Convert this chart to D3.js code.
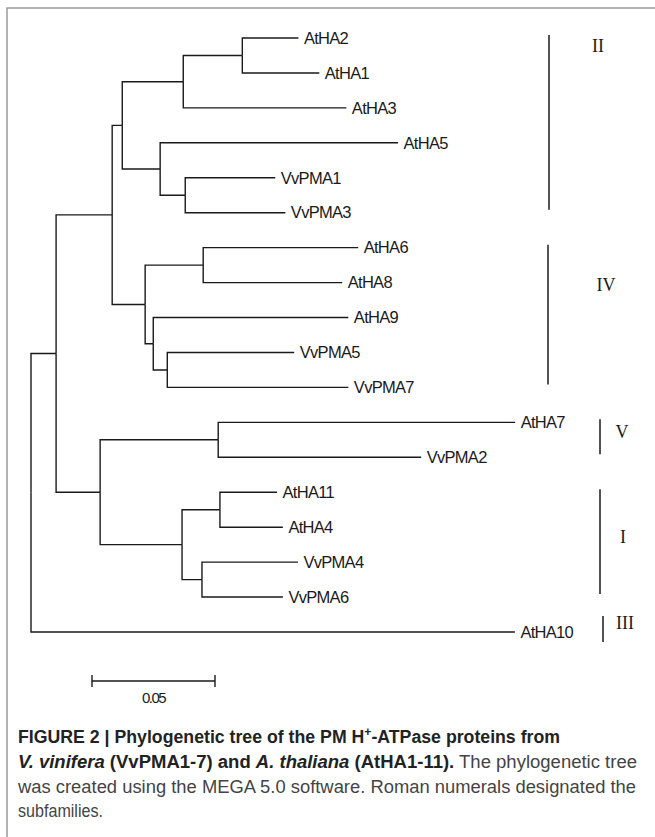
<!DOCTYPE html>
<html>
<head>
<meta charset="utf-8">
<script src="https://cdn.jsdelivr.net/npm/d3@7"></script>
<style>
  html, body { margin: 0; padding: 0; background: #fff; }
  svg { display: block; }
</style>
</head>
<body>
<svg id="chart"></svg>
<script>
// tree topology: node, parent, branch length (substitutions per site)
const nodeNames = ["root", "n1", "n2", "n3", "n4", "n5", "AtHA2", "AtHA1", "AtHA3", "n6", "AtHA5", "n7", "VvPMA1", "VvPMA3",
    "n8", "n9", "AtHA6", "AtHA8", "n10", "AtHA9", "n11", "VvPMA5", "VvPMA7",
    "n12", "n13", "AtHA7", "VvPMA2", "n14", "n15", "AtHA11", "AtHA4", "n16", "VvPMA4", "VvPMA6", "AtHA10"];
const parentNames = ["", "root", "n1", "n2", "n3", "n4", "n5", "n5", "n4", "n3", "n6", "n6", "n7", "n7",
    "n2", "n8", "n9", "n9", "n8", "n10", "n10", "n11", "n11",
    "n1", "n12", "n13", "n13", "n12", "n14", "n15", "n15", "n14", "n16", "n16", "root"];
const branchLengths = [0, 0.0102, 0.0228, 0.0041, 0.0248, 0.0240, 0.0228, 0.0313, 0.0663, 0.0154, 0.0967, 0.0102, 0.0366, 0.0407,
    0.0134, 0.0236, 0.0630, 0.0565, 0.0033, 0.0793, 0.0057, 0.0516, 0.0736,
    0.0179, 0.0480, 0.1207, 0.0825, 0.0333, 0.0154, 0.0232, 0.0256, 0.0081, 0.0390, 0.0329, 0.1967];

// leaf order top to bottom
const leafNames = ["AtHA2", "AtHA1", "AtHA3", "AtHA5", "VvPMA1", "VvPMA3", "AtHA6", "AtHA8", "AtHA9", "VvPMA5", "VvPMA7",
    "AtHA7", "VvPMA2", "AtHA11", "AtHA4", "VvPMA4", "VvPMA6", "AtHA10"];

// subfamilies
const subfamilies = ["II", "IV", "V", "I", "III"];
const subfamilyFirst = ["AtHA2", "AtHA6", "AtHA7", "AtHA11", "AtHA10"];
const subfamilyLast = ["VvPMA3", "VvPMA7", "VvPMA2", "VvPMA6", "AtHA10"];

const scaleBarValue = 0.05;
const scaleBarLabel = "0.05";

const width = 655;
const height = 837;

const svg = d3.select("#chart")
    .attr("width", width)
    .attr("height", height);

// frame
svg.append("path")
    .attr("d", `M7,${height} V8 H${width}`)
    .attr("fill", "none")
    .attr("stroke", "#9a9a9a")
    .attr("stroke-width", 1.5);

const x = d3.scaleLinear().domain([0, 0.2]).range([31, 31 + 492]);
const y = d3.scalePoint().domain(leafNames).range([38, 632]);

const table = nodeNames.map((n, i) => ({id: n, parentId: parentNames[i] || null, length: branchLengths[i]}));
const root = d3.stratify()(table);

root.eachBefore(d => d.dist = (d.parent ? d.parent.dist : 0) + d.data.length);
root.eachAfter(d => {
    d.yy = d.children
        ? (d.children[0].yy + d.children[d.children.length - 1].yy) / 2
        : y(d.id);
});

const tree = svg.append("g");

// branches (elbow from parent)
tree.selectAll("path.branch")
    .data(root.descendants().filter(d => d.parent))
    .enter().append("path")
    .attr("class", "branch")
    .attr("d", d => `M${x(d.parent.dist)},${d.parent.yy} V${d.yy} H${x(d.dist)}`)
    .attr("fill", "none")
    .attr("stroke", "#1a1a1a")
    .attr("stroke-width", 1.4);

// leaf labels
tree.selectAll("text.leaf")
    .data(root.leaves())
    .enter().append("text")
    .attr("class", "leaf")
    .attr("x", d => x(d.dist) + 5.5)
    .attr("y", d => d.yy)
    .attr("dy", "0.35em")
    .style("font-family", "'Liberation Sans', Arial, sans-serif")
    .style("font-size", "16.5px")
    .style("letter-spacing", "-0.7px")
    .style("fill", "#1a1a1a")
    .text(d => d.id);

// subfamily brackets
const bracketLayout = {
    II: {x: 549, lx: 598, ly: 46},
    IV: {x: 548, lx: 606, ly: 285},
    V: {x: 600, lx: 622, ly: 432},
    I: {x: 600, lx: 623, ly: 537},
    III: {x: 603, lx: 625, ly: 623}
};
const brackets = subfamilies.map((s, i) => {
    const y0 = y(subfamilyFirst[i]), y1 = y(subfamilyLast[i]);
    const mid = (y0 + y1) / 2 - 3;
    const half = Math.max((y1 - y0) / 2, 13);
    return {name: s, top: mid - half, bottom: mid + half};
});

svg.selectAll("line.bracket")
    .data(brackets)
    .enter().append("line")
    .attr("class", "bracket")
    .attr("x1", d => bracketLayout[d.name].x)
    .attr("x2", d => bracketLayout[d.name].x)
    .attr("y1", d => d.top)
    .attr("y2", d => d.bottom)
    .attr("stroke", "#1a1a1a")
    .attr("stroke-width", 1.5);

svg.selectAll("text.family")
    .data(brackets)
    .enter().append("text")
    .attr("class", "family")
    .attr("x", d => bracketLayout[d.name].lx)
    .attr("y", d => bracketLayout[d.name].ly)
    .attr("dy", "0.33em")
    .attr("text-anchor", "middle")
    .style("font-family", "'Liberation Serif', 'Times New Roman', serif")
    .style("font-size", "18px")
    .style("fill", "#1a1a1a")
    .text(d => d.name);

// scale bar
const sb = svg.append("g").attr("transform", "translate(0,681)");
const sbLen = x(scaleBarValue) - x(0);
const sbX0 = 92;
sb.append("path")
    .attr("d", `M${sbX0},-6 V6 M${sbX0},0 H${sbX0 + sbLen} M${sbX0 + sbLen},-6 V6`)
    .attr("fill", "none")
    .attr("stroke", "#1a1a1a")
    .attr("stroke-width", 1.4);
sb.append("text")
    .attr("x", sbX0 + sbLen / 2)
    .attr("y", 17)
    .attr("dy", "0.35em")
    .attr("text-anchor", "middle")
    .style("font-family", "'Liberation Sans', Arial, sans-serif")
    .style("font-size", "15px")
    .style("letter-spacing", "-1.5px")
    .style("fill", "#1a1a1a")
    .text(scaleBarLabel);

// caption
const cap = svg.append("g")
    .style("font-family", "'Liberation Sans', Arial, sans-serif")
    .style("font-size", "17.5px")
    .style("fill", "#222");

const l1 = cap.append("text").attr("x", 18).attr("y", 743)
    .attr("textLength", 542).attr("lengthAdjust", "spacingAndGlyphs")
    .style("font-weight", "bold");
l1.append("tspan").text("FIGURE 2 | Phylogenetic tree of the PM H");
l1.append("tspan").attr("dy", -7).style("font-size", "12px").text("+");
l1.append("tspan").attr("dy", 7).text("-ATPase proteins from");

const l2 = cap.append("text").attr("x", 18).attr("y", 768)
    .attr("textLength", 619).attr("lengthAdjust", "spacingAndGlyphs");
l2.append("tspan").style("font-weight", "bold").style("font-style", "italic").text("V. vinifera");
l2.append("tspan").style("font-weight", "bold").text(" (VvPMA1-7) and ");
l2.append("tspan").style("font-weight", "bold").style("font-style", "italic").text("A. thaliana");
l2.append("tspan").style("font-weight", "bold").text(" (AtHA1-11).");
l2.append("tspan").style("fill", "#444").text(" The phylogenetic tree");

cap.append("text").attr("x", 18).attr("y", 793)
    .attr("textLength", 618).attr("lengthAdjust", "spacingAndGlyphs")
    .style("fill", "#444")
    .text("was created using the MEGA 5.0 software. Roman numerals designated the");

cap.append("text").attr("x", 18).attr("y", 817)
    .attr("textLength", 85).attr("lengthAdjust", "spacingAndGlyphs")
    .style("fill", "#444")
    .text("subfamilies.");
</script>
</body>
</html>
